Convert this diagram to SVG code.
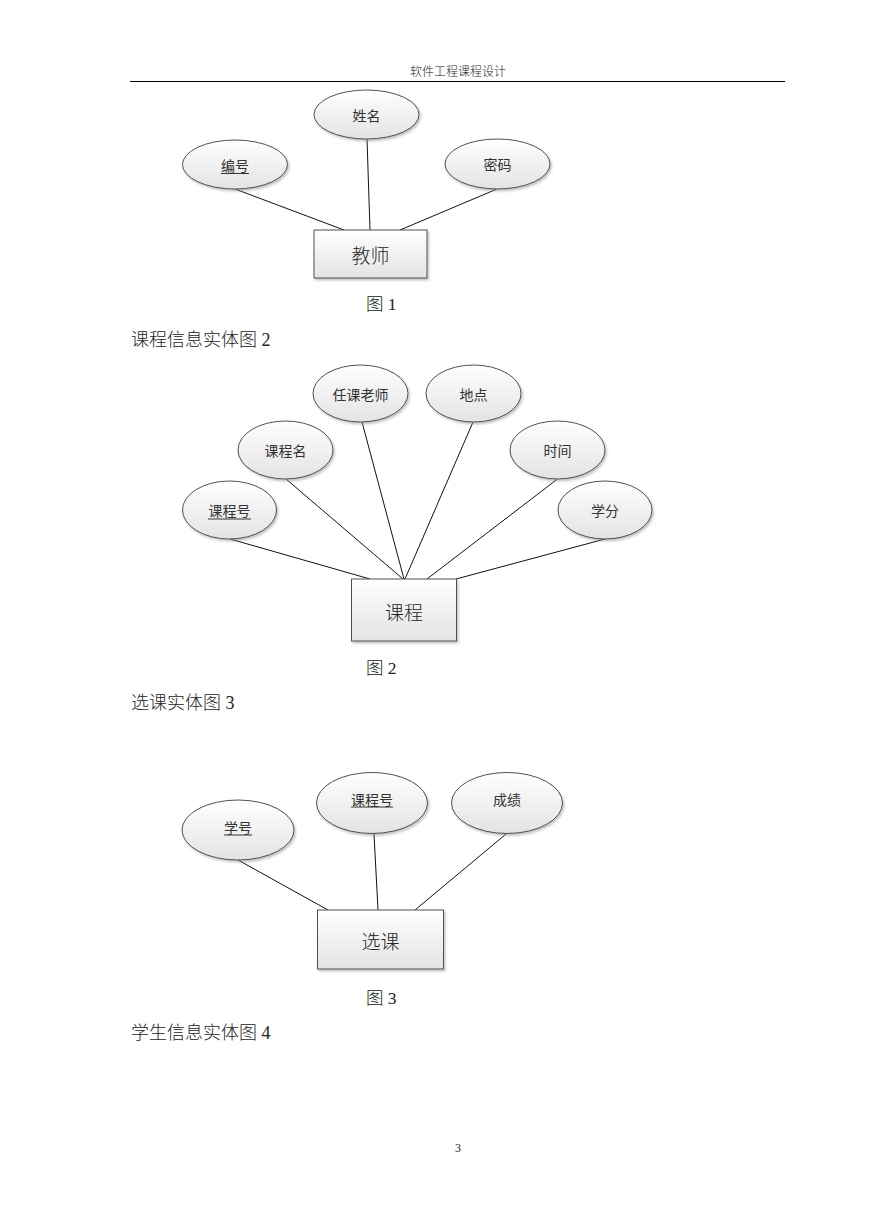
<svg xmlns="http://www.w3.org/2000/svg" width="869" height="1228" viewBox="0 0 869 1228">
<style>
.body{font-family:"Liberation Serif","Noto Sans CJK SC",serif;fill:#222;font-weight:300;}
.hdr{font-family:"Noto Sans CJK SC",sans-serif;font-size:12px;fill:#222;font-weight:300;}
.lbl{font-family:"Noto Sans CJK SC",sans-serif;font-size:14px;fill:#333;text-anchor:middle;dominant-baseline:central;}
.ent{font-family:"Noto Sans CJK SC",sans-serif;font-size:19px;fill:#222;text-anchor:middle;dominant-baseline:central;font-weight:300;}
.shape{fill:url(#g);stroke:#505050;stroke-width:1;filter:url(#sh);}
.conn line{stroke:#111;stroke-width:1;}
.ul{stroke:#333;stroke-width:1;}
</style>
<defs>
<linearGradient id="g" x1="0" y1="0" x2="0" y2="1">
<stop offset="0" stop-color="#ffffff"/>
<stop offset="1" stop-color="#e3e3e3"/>
</linearGradient>
<filter id="sh" x="-20%" y="-20%" width="140%" height="150%">
<feDropShadow dx="1.5" dy="2" stdDeviation="1.2" flood-color="#888" flood-opacity="0.5"/>
</filter>
</defs>
<rect width="869" height="1228" fill="#fff"/>
<text class="hdr" x="458" y="76" text-anchor="middle">软件工程课程设计</text>
<line x1="130" y1="81.5" x2="785" y2="81.5" stroke="#000" stroke-width="1.2"/>

<!-- Diagram 1 -->
<g class="conn" id="conn1">
<line x1="235" y1="189" x2="344" y2="230"/>
<line x1="367" y1="139" x2="370" y2="230"/>
<line x1="497" y1="189" x2="400" y2="230"/>
</g>
<g id="d1-xingming"><ellipse class="shape" cx="366.5" cy="114.5" rx="52.5" ry="24.5"/><text class="lbl" x="366.5" y="114.5">姓名</text></g>
<g id="d1-bianhao"><ellipse class="shape" cx="235" cy="164.5" rx="52.5" ry="24.5"/><text class="lbl" x="235" y="164.5">编号</text><line class="ul" x1="221" y1="173.5" x2="249" y2="173.5"/></g>
<g id="d1-mima"><ellipse class="shape" cx="497.5" cy="164" rx="52.5" ry="25"/><text class="lbl" x="497.5" y="164">密码</text></g>
<g id="d1-jiaoshi"><rect class="shape" x="314" y="230" width="113" height="48"/><text class="ent" x="370.5" y="254">教师</text></g>
<text class="body" x="366" y="310" font-size="17.5">图 1</text>
<text class="body" x="131" y="346" font-size="18">课程信息实体图 2</text>

<!-- Diagram 2 -->
<g class="conn" id="conn2">
<line x1="230" y1="539" x2="370" y2="579"/>
<line x1="286" y1="479" x2="403" y2="579"/>
<line x1="362" y1="422" x2="404" y2="579"/>
<line x1="473" y1="422" x2="405" y2="579"/>
<line x1="557.5" y1="479" x2="427" y2="579"/>
<line x1="605" y1="539" x2="456" y2="579"/>
</g>
<g id="d2-renke"><ellipse class="shape" cx="360.5" cy="393.5" rx="47.5" ry="28.5"/><text class="lbl" x="360.5" y="393.5">任课老师</text></g>
<g id="d2-didian"><ellipse class="shape" cx="473.5" cy="393.5" rx="47.5" ry="28.5"/><text class="lbl" x="473.5" y="393.5">地点</text></g>
<g id="d2-kcm"><ellipse class="shape" cx="285.5" cy="450" rx="47.5" ry="29"/><text class="lbl" x="285.5" y="450">课程名</text></g>
<g id="d2-shijian"><ellipse class="shape" cx="557.5" cy="450" rx="47.5" ry="29"/><text class="lbl" x="557.5" y="450">时间</text></g>
<g id="d2-kch"><ellipse class="shape" cx="229.5" cy="510" rx="47" ry="29"/><text class="lbl" x="229.5" y="510">课程号</text><line class="ul" x1="208" y1="519" x2="251" y2="519"/></g>
<g id="d2-xuefen"><ellipse class="shape" cx="605" cy="510" rx="47" ry="29"/><text class="lbl" x="605" y="510">学分</text></g>
<g id="d2-kecheng"><rect class="shape" x="351.5" y="579" width="105" height="62"/><text class="ent" x="404" y="611">课程</text></g>
<text class="body" x="366" y="674" font-size="17.5">图 2</text>
<text class="body" x="131" y="709" font-size="18">选课实体图 3</text>

<!-- Diagram 3 -->
<g class="conn" id="conn3">
<line x1="238" y1="860" x2="328" y2="910"/>
<line x1="374" y1="834" x2="378" y2="910"/>
<line x1="506" y1="834" x2="415" y2="910"/>
</g>
<g id="d3-xuehao"><ellipse class="shape" cx="238" cy="830" rx="56" ry="30"/><text class="lbl" x="238" y="827">学号</text><line class="ul" x1="224" y1="835" x2="252" y2="835"/></g>
<g id="d3-kch"><ellipse class="shape" cx="372" cy="803" rx="55.5" ry="30.5"/><text class="lbl" x="372" y="799">课程号</text><line class="ul" x1="351" y1="807" x2="393" y2="807"/></g>
<g id="d3-chengji"><ellipse class="shape" cx="507" cy="803" rx="55.5" ry="30.5"/><text class="lbl" x="507" y="799">成绩</text></g>
<g id="d3-xuanke"><rect class="shape" x="317.5" y="910" width="126" height="59"/><text class="ent" x="380.5" y="940">选课</text></g>
<text class="body" x="366" y="1004" font-size="17.5">图 3</text>
<text class="body" x="131" y="1039" font-size="18">学生信息实体图 4</text>

<text class="body" x="458" y="1152" font-size="12" text-anchor="middle">3</text>
</svg>
